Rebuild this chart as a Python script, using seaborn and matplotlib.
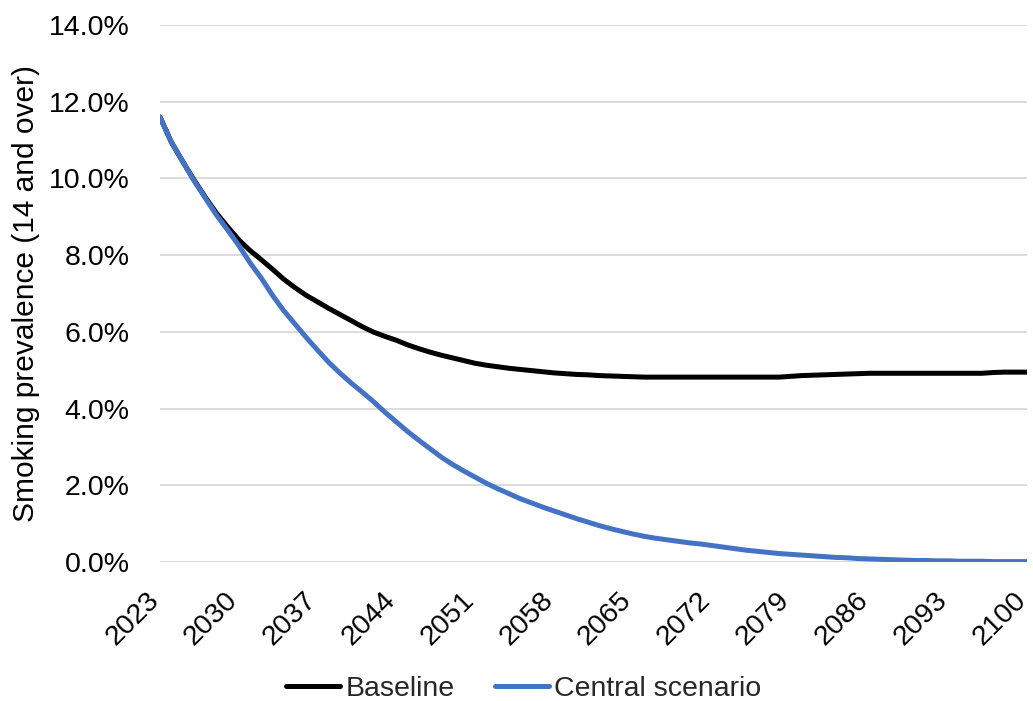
import numpy as np
import pandas as pd
import matplotlib
matplotlib.use("Agg")
import matplotlib.pyplot as plt
import seaborn as sns
from matplotlib.ticker import PercentFormatter

years = list(range(2023, 2101))

baseline = [
    11.60, 10.95, 10.45, 9.97, 9.52, 9.10, 8.74, 8.40, 8.12, 7.88,
    7.63, 7.37, 7.15, 6.95, 6.78, 6.61, 6.45, 6.29, 6.13, 5.99,
    5.88, 5.78, 5.66, 5.56, 5.47, 5.39, 5.32, 5.25, 5.18, 5.13,
    5.09, 5.05, 5.02, 4.99, 4.96, 4.93, 4.91, 4.89, 4.88, 4.86,
    4.85, 4.84, 4.83, 4.82, 4.82, 4.82, 4.82, 4.82, 4.82, 4.82,
    4.82, 4.82, 4.82, 4.82, 4.82, 4.82, 4.84, 4.86, 4.87, 4.88,
    4.89, 4.90, 4.91, 4.92, 4.92, 4.92, 4.92, 4.92, 4.92, 4.92,
    4.92, 4.92, 4.92, 4.92, 4.94, 4.95, 4.95, 4.95,
]

central = [
    11.60, 10.95, 10.45, 9.95, 9.50, 9.05, 8.66, 8.25, 7.80, 7.40,
    6.95, 6.55, 6.20, 5.85, 5.52, 5.20, 4.92, 4.66, 4.42, 4.17,
    3.90, 3.65, 3.40, 3.17, 2.95, 2.73, 2.54, 2.37, 2.21, 2.05,
    1.91, 1.78, 1.65, 1.54, 1.43, 1.33, 1.23, 1.13, 1.04, 0.95,
    0.87, 0.80, 0.73, 0.67, 0.62, 0.58, 0.54, 0.50, 0.47, 0.43,
    0.39, 0.35, 0.31, 0.28, 0.25, 0.22, 0.20, 0.18, 0.16, 0.14,
    0.12, 0.11, 0.09, 0.08, 0.07, 0.06, 0.05, 0.04, 0.04, 0.03,
    0.03, 0.02, 0.02, 0.02, 0.01, 0.01, 0.01, 0.01,
]

series_names = ["Baseline", "Central scenario"]
series_colors = ["#000000", "#4472C4"]
y_label = "Smoking prevalence (14 and over)"
x_ticks = list(range(2023, 2101, 7))
y_ticks = [0, 2, 4, 6, 8, 10, 12, 14]

df = pd.DataFrame({
    "year": years * 2,
    "value": baseline + central,
    "series": [series_names[0]] * len(years) + [series_names[1]] * len(years),
})

sns.set_theme(style="white")
plt.rcParams["font.family"] = ["Liberation Sans", "DejaVu Sans"]

W, H = 1033, 701
fig = plt.figure(figsize=(W / 100, H / 100), dpi=100)
left, right, top, bottom = 160, 1027, 25, 562
ax = fig.add_axes([left / W, 1 - bottom / H, (right - left) / W, (bottom - top) / H])

sns.lineplot(
    data=df, x="year", y="value", hue="series",
    palette=dict(zip(series_names, series_colors)),
    linewidth=3.6, ax=ax, legend=False,
)

ax.set_xlim(2023, 2100)
ax.set_ylim(0, 14)
ax.set_xticks(x_ticks)
ax.set_xticklabels([str(t) for t in x_ticks], rotation=45, ha="right", va="baseline",
                   rotation_mode="anchor", fontsize=20.5, color="#000000")
ax.set_yticks(y_ticks)
ax.yaxis.set_major_formatter(PercentFormatter(decimals=1))
ax.tick_params(axis="y", labelsize=20.5, colors="#000000", pad=22, length=0)
ax.tick_params(axis="x", length=0, pad=28)
ax.set_xlabel("")
ax.set_ylabel(y_label, fontsize=21.5, color="#000000", labelpad=6)

ax.grid(axis="y", color="#D9D9D9", linewidth=1.3)
ax.grid(axis="x", visible=False)
for s in ax.spines.values():
    s.set_visible(False)

handles = [plt.Line2D([], [], color=c, linewidth=3.6) for c in series_colors]
fig.legend(handles, series_names, loc="lower center", ncol=2, frameon=False,
           fontsize=20.5, bbox_to_anchor=(0.507, -0.038), handlelength=1.9,
           handletextpad=0.2, columnspacing=1.4)

fig.savefig("out.png", dpi=100)
